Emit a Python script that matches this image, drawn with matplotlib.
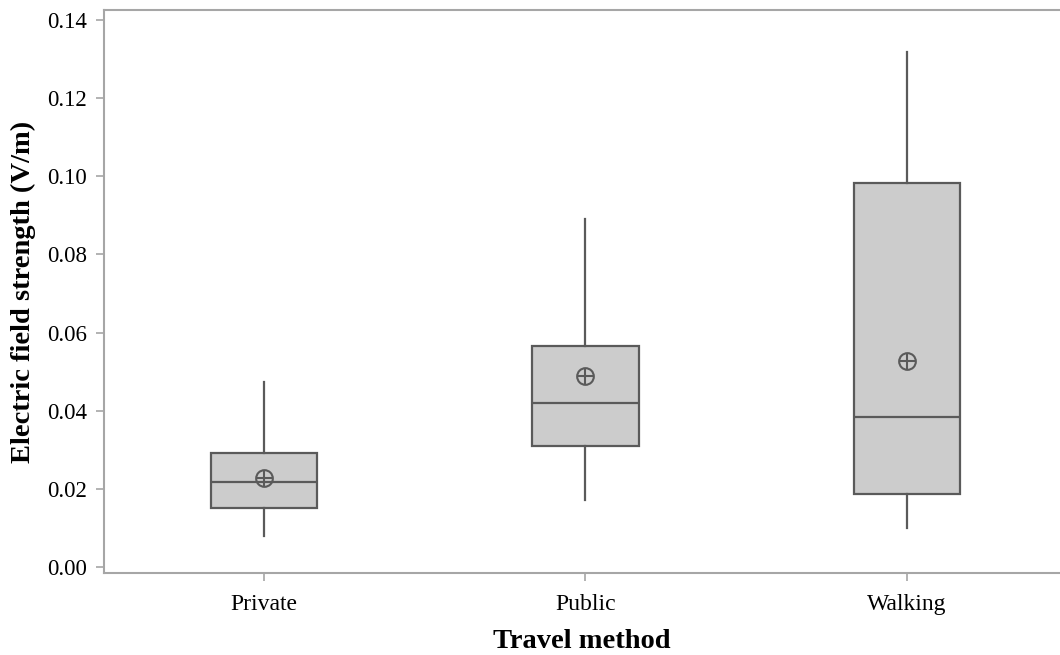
import matplotlib
matplotlib.use("Agg")
import matplotlib.pyplot as plt

# Travel methods and per-group summary statistics (V/m)
categories = ["Private", "Public", "Walking"]
whisker_low = [0.0079, 0.0172, 0.0099]
q1 = [0.0150, 0.0310, 0.0187]
medians = [0.0217, 0.0421, 0.0384]
q3 = [0.0293, 0.0565, 0.0982]
whisker_high = [0.0474, 0.0892, 0.1317]
means = [0.0229, 0.0489, 0.0527]

yticks = [0.00, 0.02, 0.04, 0.06, 0.08, 0.10, 0.12, 0.14]

plt.rcParams["font.family"] = ["Liberation Serif", "DejaVu Serif"]

fig = plt.figure(figsize=(10.6, 6.55), dpi=100)
ax = fig.add_axes([104 / 1060, 1 - 573 / 655, 1 - 104 / 1060, (573 - 10) / 655])

edge = "#5a5a5a"
fill = "#cccccc"
spine = "#a6a6a6"

stats = []
for i, name in enumerate(categories):
    stats.append(dict(label=name, whislo=whisker_low[i], q1=q1[i], med=medians[i],
                      q3=q3[i], whishi=whisker_high[i], mean=means[i], fliers=[]))

positions = list(range(len(categories)))
ax.bxp(stats, positions=positions, widths=0.33, showcaps=False, showfliers=False,
       patch_artist=True,
       boxprops=dict(facecolor=fill, edgecolor=edge, linewidth=1.6),
       medianprops=dict(color=edge, linewidth=1.6),
       whiskerprops=dict(color=edge, linewidth=1.6))

# Mean marker: circle with a cross inside
ax.plot(positions, means, linestyle="none", marker="o", markersize=12,
        markerfacecolor="none", markeredgecolor=edge, markeredgewidth=1.5, zorder=5)
ax.plot(positions, means, linestyle="none", marker="+", markersize=11,
        markeredgecolor=edge, markeredgewidth=1.5, zorder=5)

ax.set_xlim(-0.4977, 2.476)
ax.set_ylim(-0.00154, 0.14257)
ax.set_yticks(yticks)
ax.set_yticklabels([f"{v:.2f}" for v in yticks])
ax.set_xticks(positions)
ax.set_xticklabels(categories)

for s in ["top", "left", "bottom"]:
    ax.spines[s].set_color(spine)
    ax.spines[s].set_linewidth(1.5)
ax.spines["right"].set_visible(False)

ax.tick_params(axis="both", direction="out", length=6, width=1.2, color=spine,
               labelcolor="black")
ax.tick_params(axis="y", labelsize=16.5, pad=6)
ax.tick_params(axis="x", labelsize=17, pad=9)

ax.set_xlabel("Travel method", fontsize=20.5, fontweight="bold", labelpad=10)
ax.set_ylabel("Electric field strength (V/m)", fontsize=20.5, fontweight="bold", labelpad=8)

fig.savefig("out.png", dpi=100)
